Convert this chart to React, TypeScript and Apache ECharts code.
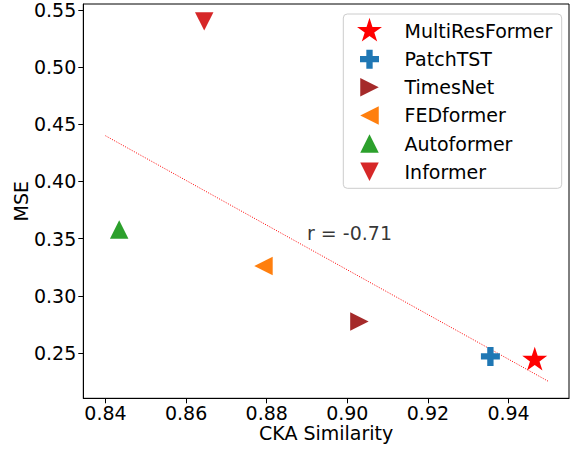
import React, { useEffect, useRef } from "react";
import * as echarts from "echarts";

const models = ["MultiResFormer", "PatchTST", "TimesNet", "FEDformer", "Autoformer", "Informer"];
const ckaValues = [0.9465, 0.9355, 0.903, 0.8792, 0.8434, 0.8645];
const mseValues = [0.244, 0.247, 0.2775, 0.326, 0.358, 0.54];
const colors = ["#ff0000", "#1f77b4", "#a52a2a", "#ff7f0e", "#2ca02c", "#d62728"];
const markerKinds = ["star", "plus", "right", "left", "up", "down"];
const trendX = [0.84, 0.95];
const trendY = [0.44, 0.225];
const xTicks = [0.84, 0.86, 0.88, 0.9, 0.92, 0.94];
const yTicks = [0.25, 0.3, 0.35, 0.4, 0.45, 0.5, 0.55];
const corrLabel = "r = -0.71";
const corrPos = [0.89, 0.355];

const FONT = "DejaVu Sans";
const FS = 19;

function starPath(): string {
  const R = 46.9;
  const r = R * 0.381966;
  const pts: string[] = [];
  for (let k = 0; k < 10; k++) {
    const ang = (k * 36 * Math.PI) / 180;
    const rad = k % 2 === 0 ? R : r;
    const x = 50 + rad * Math.sin(ang);
    const y = 50 - rad * Math.cos(ang);
    pts.push((k === 0 ? "M" : "L") + x.toFixed(2) + " " + y.toFixed(2));
  }
  return pts.join("") + "Z";
}

function markerPath(kind: string): string {
  const pad = "M0 0M100 100";
  const a = 33;
  const lo = 50 - a;
  const hi = 50 + a;
  let d = "";
  if (kind === "star") d = starPath();
  else if (kind === "up") d = `M50 ${lo}L${hi} ${hi}L${lo} ${hi}Z`;
  else if (kind === "down") d = `M50 ${hi}L${lo} ${lo}L${hi} ${lo}Z`;
  else if (kind === "left") d = `M${lo} 50L${hi} ${lo}L${hi} ${hi}Z`;
  else if (kind === "right") d = `M${hi} 50L${lo} ${lo}L${lo} ${hi}Z`;
  else if (kind === "plus") {
    const w = 33.9;
    const u = w / 3;
    const A = 50 - w, B = 50 - u, C = 50 + u, D = 50 + w;
    d = `M${B} ${A}L${C} ${A}L${C} ${B}L${D} ${B}L${D} ${C}L${C} ${C}L${C} ${D}L${B} ${D}L${B} ${C}L${A} ${C}L${A} ${B}L${B} ${B}Z`;
  }
  return "path://" + pad + d;
}

export default function App() {
  const ref = useRef<HTMLDivElement>(null);
  useEffect(() => {
    if (!ref.current) return;
    const chart = echarts.init(ref.current, undefined, { renderer: "svg" });
    const scatterSeries = models.map((name, i) => ({
      name,
      type: "scatter",
      data: [[ckaValues[i], mseValues[i]]],
      symbol: markerPath(markerKinds[i]),
      symbolSize: 28,
      itemStyle: { color: colors[i], opacity: 1 },
      z: 3,
    }));
    chart.setOption({
      animation: false,
      backgroundColor: "#ffffff",
      textStyle: { fontFamily: FONT },
      grid: {
        left: 83.3,
        right: 2,
        top: 4,
        bottom: 52.7,
        show: true,
        borderColor: "#000",
        borderWidth: 1,
        backgroundColor: "transparent",
        outerBoundsMode: "none",
      },
      xAxis: {
        type: "value",
        min: 0.8345,
        max: 0.955,
        name: "CKA Similarity",
        nameLocation: "middle",
        nameGap: 25.6,
        nameMoveOverlap: false,
        nameTextStyle: { fontSize: FS, color: "#000", fontFamily: FONT },
        axisLine: { show: true, onZero: false, lineStyle: { color: "#000", width: 1 } },
        axisTick: { show: true, customValues: xTicks, length: 5, lineStyle: { color: "#000", width: 1 } },
        axisLabel: {
          customValues: xTicks,
          formatter: (v: number) => v.toFixed(2),
          fontSize: FS,
          color: "#000",
          fontFamily: FONT,
          margin: 4.9,
        },
        splitLine: { show: false },
      },
      yAxis: {
        type: "value",
        min: 0.2104,
        max: 0.5552,
        name: "MSE",
        nameLocation: "middle",
        nameRotate: 90,
        nameGap: 52.6,
        nameMoveOverlap: false,
        nameTextStyle: { fontSize: FS, color: "#000", fontFamily: FONT },
        axisLine: { show: true, onZero: false, lineStyle: { color: "#000", width: 1 } },
        axisTick: { show: true, customValues: yTicks, length: 5, lineStyle: { color: "#000", width: 1 } },
        axisLabel: {
          customValues: yTicks,
          formatter: (v: number) => v.toFixed(2),
          fontSize: FS,
          color: "#000",
          fontFamily: FONT,
          margin: 7,
        },
        splitLine: { show: false },
      },
      legend: {
        data: models,
        orient: "vertical",
        left: 355.5,
        top: 17,
        padding: 0,
        itemWidth: 60,
        itemHeight: 28,
        itemGap: 0.15,
        selectedMode: false,
        textStyle: { fontSize: FS, color: "#000", fontFamily: FONT },
        z: 5,
      },
      graphic: [
        {
          type: "rect",
          shape: { x: 343.3, y: 14, width: 218.4, height: 174.3, r: 4 },
          style: { fill: "rgba(255,255,255,0.8)", stroke: "#cccccc", lineWidth: 1 },
          z: 4,
        },
      ],
      series: [
        {
          type: "line",
          data: trendX.map((x, i) => [x, trendY[i]]),
          symbol: "none",
          lineStyle: { color: "#ff0000", width: 1, type: [1, 1.5] },
          z: 2,
          silent: true,
        },
        ...scatterSeries,
        {
          type: "scatter",
          name: "corr",
          data: [corrPos],
          symbolSize: 0,
          label: {
            show: true,
            position: "right",
            distance: 0,
            formatter: corrLabel,
            fontSize: FS,
            color: "#000",
            fontFamily: FONT,
          },
          z: 3,
        },
      ],
    });
    return () => chart.dispose();
  }, []);
  return <div ref={ref} style={{ position: "fixed", left: 0, top: 0, width: 571, height: 451 }} />;
}
